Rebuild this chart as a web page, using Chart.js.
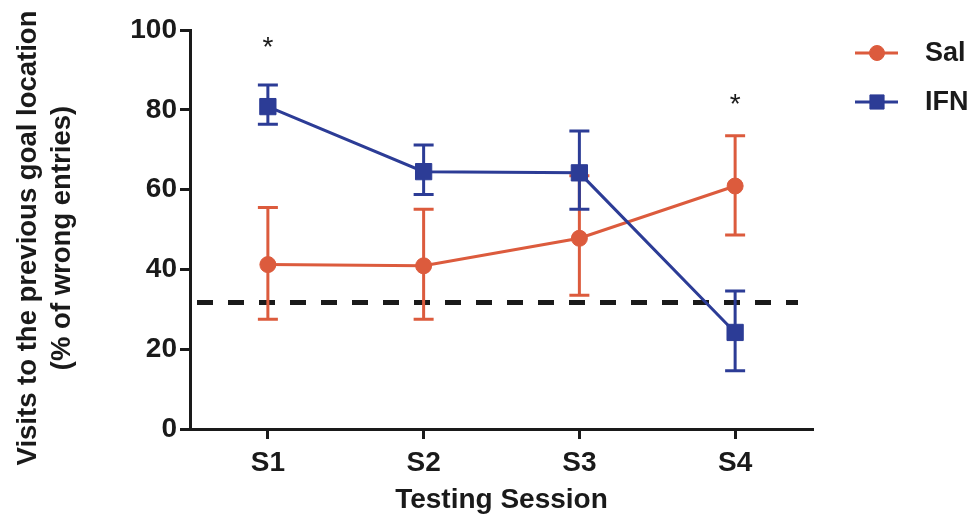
<!DOCTYPE html>
<html>
<head>
<meta charset="utf-8">
<script src="https://cdn.jsdelivr.net/npm/chart.js@4.4.1/dist/chart.umd.min.js"></script>
<style>
  html, body { margin: 0; padding: 0; background: #ffffff; }
  #wrap { width: 975px; height: 519px; }
</style>
</head>
<body>
<div id="wrap"><canvas id="sessionChart" width="975" height="519"></canvas></div>
<script>
// Sessions and group values (% of wrong entries to the previous goal)
const sessions = ["S1", "S2", "S3", "S4"];
const yTicks = [0, 20, 40, 60, 80, 100];

const salMean = [41.2, 40.9, 47.8, 60.9];
const salHigh = [55.5, 55.1, 63.5, 73.5];
const salLow = [27.5, 27.5, 33.5, 48.6];

const ifnMean = [80.8, 64.5, 64.2, 24.2];
const ifnHigh = [86.2, 71.2, 74.7, 34.6];
const ifnLow = [76.4, 58.8, 55.1, 14.6];

// chance level and significance marks
const chanceLevel = [31.7];
const sigSessions = ["S1", "S4"];
const sigLevel = [97, 82.7];

const yTitle = ["Visits to the previous goal location", "(% of wrong entries)"];

const RED = "#dc5b3d";
const BLUE = "#2c3c96";
const INK = "#1a1a1a";
const FONT = "'Liberation Sans', Arial, sans-serif";

// draws the error bars of each dataset right before its line
const errorBars = {
  id: "errorBars",
  beforeDatasetDraw(chart, args) {
    const ds = chart.data.datasets[args.index];
    if (!ds.errHigh) return;
    const { ctx } = chart;
    const y = chart.scales.y;
    ctx.save();
    ctx.strokeStyle = ds.borderColor;
    ctx.lineWidth = 3;
    args.meta.data.forEach((pt, i) => {
      const top = y.getPixelForValue(ds.errHigh[i]);
      const bot = y.getPixelForValue(ds.errLow[i]);
      ctx.beginPath();
      ctx.moveTo(pt.x, top);
      ctx.lineTo(pt.x, bot);
      ctx.moveTo(pt.x - 10, top);
      ctx.lineTo(pt.x + 10, top);
      ctx.moveTo(pt.x - 10, bot);
      ctx.lineTo(pt.x + 10, bot);
      ctx.stroke();
    });
    ctx.restore();
  },
};

// dashed chance line, asterisks, y title and the legend on the right
const extras = {
  id: "extras",
  beforeDatasetsDraw(chart) {
    const { ctx, chartArea } = chart;
    const y = chart.scales.y.getPixelForValue(chanceLevel[0]);
    ctx.save();
    ctx.strokeStyle = INK;
    ctx.lineWidth = 5;
    ctx.setLineDash([16, 15]);
    ctx.beginPath();
    ctx.moveTo(chartArea.left + 7, y);
    ctx.lineTo(chartArea.right - 15, y);
    ctx.stroke();
    ctx.restore();
  },
  afterDraw(chart) {
    const { ctx } = chart;
    const xs = chart.scales.x;
    const ys = chart.scales.y;
    ctx.save();
    ctx.fillStyle = INK;
    ctx.font = "28px " + FONT;
    ctx.textAlign = "center";
    ctx.textBaseline = "alphabetic";
    const m = ctx.measureText("*");
    const shift = (m.actualBoundingBoxAscent - m.actualBoundingBoxDescent) / 2;
    sigSessions.forEach((s, i) => {
      const px = xs.getPixelForValue(sessions.indexOf(s));
      const py = ys.getPixelForValue(sigLevel[i]);
      ctx.fillText("*", px, py + shift);
    });

    // rotated two-line y title
    ctx.save();
    ctx.translate(28, 238);
    ctx.rotate(-Math.PI / 2);
    ctx.font = "bold 27.5px " + FONT;
    ctx.textBaseline = "middle";
    yTitle.forEach((line, i) => ctx.fillText(line, 0, i * 34));
    ctx.restore();

    // legend
    const items = chart.data.datasets;
    ctx.textAlign = "left";
    ctx.textBaseline = "middle";
    ctx.font = "bold 27px " + FONT;
    items.forEach((ds, i) => {
      const ly = 53 + i * 49;
      ctx.strokeStyle = ds.borderColor;
      ctx.lineWidth = 3;
      ctx.beginPath();
      ctx.moveTo(855, ly);
      ctx.lineTo(898, ly);
      ctx.stroke();
      ctx.fillStyle = ds.pointBackgroundColor;
      ctx.strokeStyle = ds.pointBackgroundColor;
      ctx.lineWidth = 1;
      Chart.helpers.drawPoint(ctx, {
        pointStyle: ds.pointStyle,
        radius: ds.pointStyle === "rect" ? 10 : 7.5,
        borderWidth: 1,
      }, 877, ly);
      ctx.fillStyle = INK;
      ctx.fillText(ds.label, 925, ly + 1);
    });
    ctx.restore();
  },
};

new Chart(document.getElementById("sessionChart"), {
  type: "line",
  data: {
    labels: sessions,
    datasets: [
      {
        label: "Sal",
        data: salMean,
        errHigh: salHigh,
        errLow: salLow,
        borderColor: RED,
        backgroundColor: RED,
        pointBackgroundColor: RED,
        pointBorderColor: RED,
        pointBorderWidth: 1,
        pointStyle: "circle",
        pointRadius: 8,
        borderWidth: 3,
        tension: 0,
        order: 2,
      },
      {
        label: "IFN",
        data: ifnMean,
        errHigh: ifnHigh,
        errLow: ifnLow,
        borderColor: BLUE,
        backgroundColor: BLUE,
        pointBackgroundColor: BLUE,
        pointBorderColor: BLUE,
        pointBorderWidth: 1,
        pointStyle: "rect",
        pointRadius: 11.5,
        borderWidth: 3,
        tension: 0,
        order: 1,
      },
    ],
  },
  options: {
    responsive: false,
    animation: false,
    layout: { padding: { top: 30, right: 162, left: 0, bottom: 0 } },
    plugins: {
      legend: { display: false },
      tooltip: { enabled: false },
    },
    scales: {
      x: {
        offset: true,
        grid: {
          offset: false,
          drawOnChartArea: false,
          tickLength: 10,
          tickWidth: 3,
          tickColor: INK,
        },
        border: { color: INK, width: 3 },
        ticks: {
          color: INK,
          padding: 7,
          font: { family: FONT, size: 28, weight: "bold" },
        },
        title: {
          display: true,
          text: "Testing Session",
          color: INK,
          padding: { top: 1, bottom: 2 },
          font: { family: FONT, size: 28, weight: "bold" },
        },
        afterFit(scale) {
          scale.height = 90;
        },
      },
      y: {
        min: 0,
        max: 100,
        afterBuildTicks(scale) {
          scale.ticks = yTicks.map((v) => ({ value: v }));
        },
        grid: {
          drawOnChartArea: false,
          tickLength: 10,
          tickWidth: 3,
          tickColor: INK,
        },
        border: { color: INK, width: 3 },
        ticks: {
          color: INK,
          padding: 3,
          font: { family: FONT, size: 28, weight: "bold" },
        },
        afterFit(scale) {
          scale.width = 190;
        },
      },
    },
  },
  plugins: [errorBars, extras],
});
</script>
</body>
</html>
